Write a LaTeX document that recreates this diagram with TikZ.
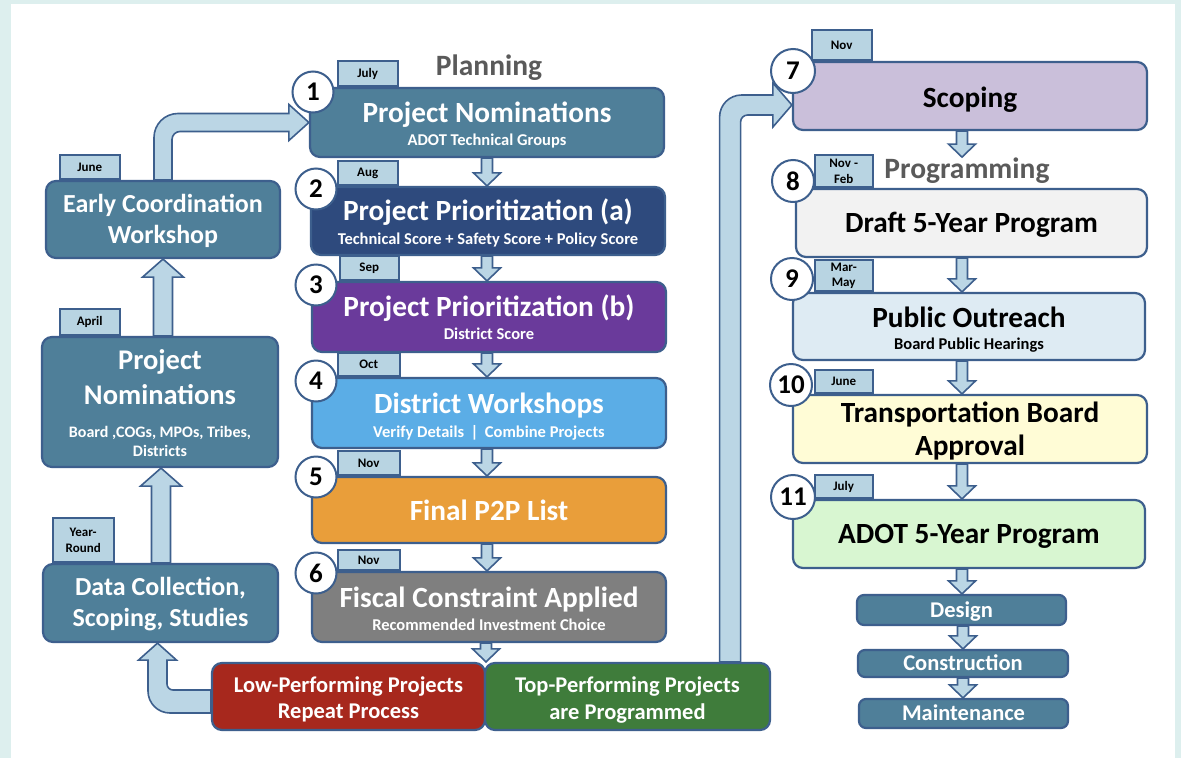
\documentclass[tikz,border=0pt]{standalone}
\usepackage{fontspec}
\setmainfont{Carlito}
\usetikzlibrary{calc}
\pgfdeclarelayer{bglayer}
\pgfdeclarelayer{arrlayer}
\pgfsetlayers{bglayer,arrlayer,main}
\definecolor{bord}{HTML}{3D5F8D}
\definecolor{steel}{HTML}{4F7F99}
\definecolor{navy}{HTML}{2E4A7D}
\definecolor{purp}{HTML}{6A3A9B}
\definecolor{skyb}{HTML}{5BADE6}
\definecolor{orng}{HTML}{E99E3A}
\definecolor{gryb}{HTML}{7F7F7F}
\definecolor{redb}{HTML}{A7281D}
\definecolor{grnb}{HTML}{3F7C3B}
\definecolor{lav}{HTML}{CABFDA}
\definecolor{lgray}{HTML}{F2F2F2}
\definecolor{lblue}{HTML}{DEEBF3}
\definecolor{lyel}{HTML}{FFFCD6}
\definecolor{lgrn}{HTML}{D8F6D1}
\definecolor{tabf}{HTML}{B8D4E2}
\definecolor{arrf}{HTML}{BBD6E5}
\definecolor{bgm}{HTML}{DDEFEE}
\definecolor{headc}{HTML}{5A5A5A}
\newcommand{\dnblk}[3]{%
  \draw[blk] let \p1=(#1), \p2=(#2) in
    (#3pt-5.5pt,\y1) -- (#3pt-5.5pt,\y2+13pt) -- (#3pt-13.5pt,\y2+13pt) -- (#3pt,\y2)
    -- (#3pt+13.5pt,\y2+13pt) -- (#3pt+5.5pt,\y2+13pt) -- (#3pt+5.5pt,\y1) -- cycle;}
\newcommand{\upblk}[3]{%
  \draw[blk] let \p1=(#1), \p2=(#2) in
    (#3pt-9.5pt,\y1) -- (#3pt-9.5pt,\y2-18pt) -- (#3pt-20.5pt,\y2-18pt) -- (#3pt,\y2)
    -- (#3pt+20.5pt,\y2-18pt) -- (#3pt+9.5pt,\y2-18pt) -- (#3pt+9.5pt,\y1) -- cycle;}
\begin{document}
\begin{tikzpicture}[x=1pt,y=-1pt,
  box/.style={draw=bord,line width=2.2pt,rounded corners=10pt,inner sep=0pt},
  tabbox/.style={draw=bord,line width=1.6pt,fill=tabf,inner sep=0pt,align=center,anchor=south west,font=\bfseries\fontsize{13}{15.5}\selectfont},
  num/.style={circle,draw=bord,line width=2pt,fill=white,inner sep=0pt,minimum size=41pt,font=\bfseries\fontsize{27}{27}\selectfont},
  blk/.style={draw=bord,line width=1.6pt,fill=arrf,line join=miter},
  lbl/.style={anchor=base,inner sep=0pt},
  wt/.style={lbl,text=white},
  bk/.style={lbl,text=black},
  fT/.style={font=\bfseries\fontsize{29.3}{34}\selectfont},
  fS/.style={font=\bfseries\fontsize{16.5}{19}\selectfont},
  fL/.style={font=\bfseries\fontsize{26}{31}\selectfont},
  fE/.style={font=\bfseries\fontsize{26}{31}\selectfont},
  fR/.style={font=\bfseries\fontsize{22.5}{27}\selectfont},
  fH/.style={font=\bfseries\fontsize{29.5}{34}\selectfont},
]
\useasboundingbox (0,0) rectangle (1181,758);
\begin{pgfonlayer}{bglayer}
  \fill[bgm] (0,0) rectangle (1181,758);
  \fill[white] (11,4) rectangle (1175,758);
\end{pgfonlayer}

% ---------- boxes ----------
\node[box,fill=steel,minimum width=234pt,minimum height=77pt] (ec) at (163,219.5) {};
\node[box,fill=steel,minimum width=236pt,minimum height=130pt] (ln) at (160,402) {};
\node[box,fill=steel,minimum width=235pt,minimum height=78pt] (dc) at (160.5,603) {};

\node[box,fill=steel,minimum width=354pt,minimum height=69pt] (b1) at (487,122.5) {};
\node[box,fill=navy,minimum width=354pt,minimum height=68pt] (b2) at (488,221) {};
\node[box,fill=purp,minimum width=354pt,minimum height=70pt] (b3) at (489,317) {};
\node[box,fill=skyb,minimum width=354pt,minimum height=70pt] (b4) at (489,413) {};
\node[box,fill=orng,minimum width=354pt,minimum height=66pt] (b5) at (489,510) {};
\node[box,fill=gryb,minimum width=354pt,minimum height=70pt] (b6) at (489,607) {};
\node[box,fill=redb,minimum width=273pt,minimum height=67pt] (rd) at (348.5,696.5) {};
\node[box,fill=grnb,minimum width=285pt,minimum height=67pt] (gr) at (627.5,696.5) {};
\coordinate (split) at (rd.north east);

\node[box,fill=lav,minimum width=354pt,minimum height=68pt] (sc) at (970,96) {};
\node[box,fill=lgray,minimum width=351pt,minimum height=68pt] (b8) at (971.5,223) {};
\node[box,fill=lblue,minimum width=352pt,minimum height=67pt] (b9) at (969,326.5) {};
\node[box,fill=lyel,minimum width=354pt,minimum height=68pt] (b10) at (970,429) {};
\node[box,fill=lgrn,minimum width=352pt,minimum height=68pt] (b11) at (969,534) {};
\node[box,fill=steel,rounded corners=7pt,minimum width=209pt,minimum height=30pt] (de) at (961.5,610) {};
\node[box,fill=steel,rounded corners=7pt,minimum width=210pt,minimum height=27pt] (co) at (963,663.5) {};
\node[box,fill=steel,rounded corners=7pt,minimum width=209pt,minimum height=29pt] (ma) at (963.5,713.5) {};

% ---------- texts ----------
\node[wt,fE] (ect1) at (163,212) {Early Coordination};
\node[wt,fE] (ect2) at (163,243) {Workshop};
\node[wt,font=\bfseries\fontsize{28.5}{33}\selectfont] (lnt1) at (160,369) {Project};
\node[wt,font=\bfseries\fontsize{28.5}{33}\selectfont] (lnt2) at (160,404) {Nominations};
\node[wt,font=\bfseries\fontsize{16}{19}\selectfont] (lnt3) at (160,437) {Board ,COGs, MPOs, Tribes,};
\node[wt,font=\bfseries\fontsize{16}{19}\selectfont] (lnt4) at (160,456) {Districts};
\node[wt,fL] (dct1) at (160.5,595) {Data Collection,};
\node[wt,fL] (dct2) at (160.5,626) {Scoping, Studies};

\node[wt,fT] (b1t) at (487,122.5) {Project Nominations};
\node[wt,fS] (b1s) at (487,145) {ADOT Technical Groups};
\node[wt,fT] (b2t) at (488,220) {Project Prioritization (a)};
\node[wt,fS] (b2s) at (488,244) {Technical Score + Safety Score + Policy Score};
\node[wt,fT] (b3t) at (489,316.5) {Project Prioritization (b)};
\node[wt,fS] (b3s) at (489,339) {District Score};
\node[wt,fT] (b4t) at (489,413) {District Workshops};
\node[wt,fS] (b4s) at (489,437) {Verify Details \,|\, Combine Projects};
\node[wt,fT] (b5t) at (489,520) {Final P2P List};
\node[wt,fT] (b6t) at (489,607) {Fiscal Constraint Applied};
\node[wt,fS] (b6s) at (489,630) {Recommended Investment Choice};
\node[wt,fR] (rdt1) at (348.5,692) {Low-Performing Projects};
\node[wt,fR] (rdt2) at (348.5,718) {Repeat Process};
\node[wt,fR] (grt1) at (627.5,692) {Top-Performing Projects};
\node[wt,fR] (grt2) at (627.5,719) {are Programmed};

\node[bk,fT] (sct) at (970,107) {Scoping};
\node[bk,fT] (b8t) at (971.5,232) {Draft 5-Year Program};
\node[bk,fT] (b9t) at (969,327) {Public Outreach};
\node[bk,fS] (b9s) at (969,349) {Board Public Hearings};
\node[bk,fT] (b10t1) at (970,422) {Transportation Board};
\node[bk,fT] (b10t2) at (970,455) {Approval};
\node[bk,fT] (b11t) at (969,543) {ADOT 5-Year Program};
\node[wt,fR] (det) at (961.5,617) {Design};
\node[wt,fR] (cot) at (963,670) {Construction};
\node[wt,fR] (mat) at (963.5,720) {Maintenance};

% headings
\node[lbl,fH,text=headc] (pl) at (489,75) {Planning};
\node[lbl,fH,text=headc] (pr) at (967,178) {Programming};

% ---------- tabs ----------
\node[tabbox,minimum width=60pt,minimum height=24pt] (tec) at ($(ec.north west)+(14,0)$) {June};
\node[tabbox,minimum width=60pt,minimum height=26pt] (tln) at ($(ln.north west)+(18,0)$) {April};
\node[tabbox,minimum width=61pt,minimum height=44pt] (tdc) at ($(dc.north west)+(10,0)$) {Year-\\Round};
\node[tabbox,minimum width=60pt,minimum height=25pt] (tb1) at ($(b1.north west)+(28,0)$) {July};
\node[tabbox,minimum width=60pt,minimum height=24pt] (tb2) at ($(b2.north west)+(27,0)$) {Aug};
\node[tabbox,minimum width=59pt,minimum height=24pt] (tb3) at ($(b3.north west)+(28,0)$) {Sep};
\node[tabbox,minimum width=62pt,minimum height=23pt] (tb4) at ($(b4.north west)+(26,0)$) {Oct};
\node[tabbox,minimum width=62pt,minimum height=24pt] (tb5) at ($(b5.north west)+(26,0)$) {Nov};
\node[tabbox,minimum width=62pt,minimum height=20pt] (tb6) at ($(b6.north west)+(26,0)$) {Nov};
\node[tabbox,minimum width=60pt,minimum height=30pt] (tsc) at ($(sc.north west)+(19,0)$) {Nov};
\node[tabbox,minimum width=58pt,minimum height=32pt] (tb8) at ($(b8.north west)+(19,0)$) {Nov -\\Feb};
\node[tabbox,minimum width=58pt,minimum height=31pt] (tb9) at ($(b9.north west)+(22,0)$) {Mar-\\May};
\node[tabbox,minimum width=58pt,minimum height=23pt] (tb10) at ($(b10.north west)+(22,0)$) {June};
\node[tabbox,minimum width=58pt,minimum height=23pt] (tb11) at ($(b11.north west)+(22,0)$) {July};

% ---------- step numbers ----------
\node[num] (n1) at (313,92) {1};
\node[num] (n2) at (316,189) {2};
\node[num] (n3) at (316,285) {3};
\node[num] (n4) at (316,381) {4};
\node[num] (n5) at (316,477) {5};
\node[num] (n6) at (316,573) {6};
\node[num,minimum size=44pt] (n7) at (793,71) {7};
\node[num,minimum size=42pt] (n8) at (793,181) {8};
\node[num,minimum size=42pt] (n9) at (792,279) {9};
\node[num,minimum size=42pt] (n10) at (791,385) {10};
\node[num,minimum size=44pt] (n11) at (793,497) {11};

% ---------- arrows ----------
\begin{pgfonlayer}{arrlayer}
\upblk{ln.north}{ec.south}{163}
\upblk{dc.north}{ln.south}{161}
\dnblk{b1.south}{b2.north}{487}
\dnblk{b2.south}{b3.north}{487}
\dnblk{b3.south}{b4.north}{487}
\dnblk{b4.south}{b5.north}{487}
\dnblk{b5.south}{b6.north}{487}
\dnblk{b6.south}{split}{486}
\dnblk{sc.south}{pr.north}{962}
\dnblk{b8.south}{b9.north}{962}
\dnblk{b9.south}{b10.north}{962}
\dnblk{b10.south}{b11.north}{962}
\dnblk{b11.south}{de.north}{962}
\dnblk{de.south}{co.north}{963}
\dnblk{co.south}{ma.north}{963}
% Early coordination -> Project nominations (1)
\draw[blk] let \p1=(ec.north), \p2=(b1.west) in
  (\x1-9pt,\y1) -- (\x1-9pt,\y2+9pt-24pt)
  .. controls (\x1-9pt,\y2+9pt-10.7pt) and (\x1-9pt+10.7pt,\y2+9pt) .. (\x1-9pt+24pt,\y2+9pt)
  -- (\x2-20pt,\y2+9pt) -- (\x2-20pt,\y2+18pt) -- (\x2,\y2) -- (\x2-20pt,\y2-18pt) -- (\x2-20pt,\y2-9pt)
  -- (\x1+9pt+8pt,\y2-9pt)
  .. controls (\x1+9pt+3.6pt,\y2-9pt) and (\x1+9pt,\y2-9pt-3.6pt) .. (\x1+9pt,\y2-9pt-8pt)
  -- (\x1+9pt,\y1) -- cycle;
% Top performing -> Scoping (7)
\draw[blk] let \p1=($(gr.north east)+(-41,0)$), \p2=($(sc.west)+(0,9)$) in
  (\x1-10.5pt,\y1) -- (\x1-10.5pt,\y2+10pt-22pt)
  .. controls (\x1-10.5pt,\y2+10pt-9.8pt) and (\x1-10.5pt+9.8pt,\y2+10pt) .. (\x1-10.5pt+22pt,\y2+10pt)
  -- (\x2-19pt,\y2+10pt) -- (\x2-19pt,\y2+22pt) -- (\x2,\y2) -- (\x2-19pt,\y2-22pt) -- (\x2-19pt,\y2-10pt)
  -- (\x1+10.5pt+7pt,\y2-10pt)
  .. controls (\x1+10.5pt+3.1pt,\y2-10pt) and (\x1+10.5pt,\y2-10pt-3.1pt) .. (\x1+10.5pt,\y2-10pt-7pt)
  -- (\x1+10.5pt,\y1) -- cycle;
% Low performing -> Data collection
\draw[blk] let \p1=($(rd.west)+(0,5)$), \p2=($(dc.south)+(-3,0)$) in
  (\x1,\y1+11.5pt) -- (\x2+9.5pt+6pt,\y1+11.5pt)
  .. controls (\x2+9.5pt+2.7pt,\y1+11.5pt) and (\x2+9.5pt,\y1+11.5pt+2.7pt) .. (\x2+9.5pt,\y1+11.5pt+6pt)
  -- (\x2+9.5pt,\y2-17pt) -- (\x2+19pt,\y2-17pt) -- (\x2,\y2) -- (\x2-19pt,\y2-17pt) -- (\x2-9.5pt,\y2-17pt)
  -- (\x2-9.5pt,\y1-11.5pt+22pt)
  .. controls (\x2-9.5pt,\y1-11.5pt+9.8pt) and (\x2-9.5pt+9.8pt,\y1-11.5pt) .. (\x2-9.5pt+22pt,\y1-11.5pt)
  -- (\x1,\y1-11.5pt) -- cycle;
\end{pgfonlayer}
\end{tikzpicture}
\end{document}
